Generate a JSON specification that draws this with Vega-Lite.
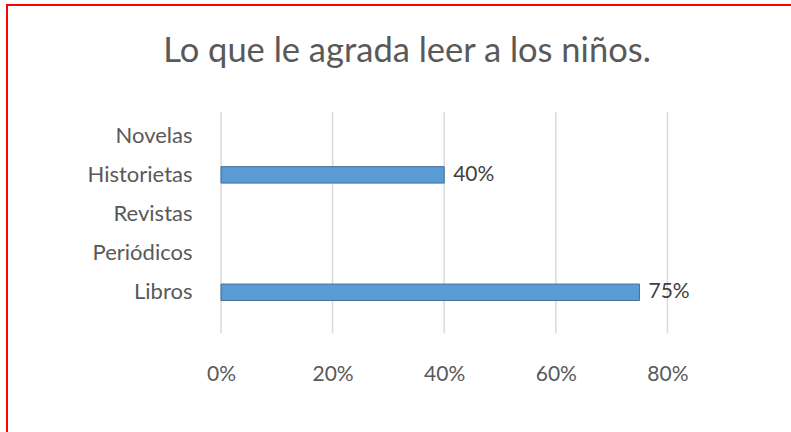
{
  "$schema": "https://vega.github.io/schema/vega-lite/v6.json",
  "autosize": "none",
  "padding": {"left": 7, "top": 5, "right": 0, "bottom": 0},
  "width": 800,
  "height": 440,
  "background": "white",
  "config": {
    "view": {"stroke": "#FF0000", "strokeWidth": 2},
    "font": "Lato"
  },
  "title": {
    "text": "Lo que le agrada leer a los niños.",
    "font": "Lato",
    "fontSize": 34.5,
    "fontWeight": "normal",
    "color": "#595959",
    "anchor": "middle",
    "offset": -64
  },
  "datasets": {
    "lectura": [
      {"tipo": "Novelas", "valor": 0},
      {"tipo": "Historietas", "valor": 0.40},
      {"tipo": "Revistas", "valor": 0},
      {"tipo": "Periódicos", "valor": 0},
      {"tipo": "Libros", "valor": 0.75}
    ],
    "marcas": [
      {"v": 0}, {"v": 0.2}, {"v": 0.4}, {"v": 0.6}, {"v": 0.8}
    ]
  },
  "layer": [
    {
      "data": {"name": "marcas"},
      "mark": {"type": "rule", "color": "#D9D9D9", "strokeWidth": 1.5, "yOffset": -24, "y2Offset": 41},
      "encoding": {
        "x": {"field": "v", "type": "quantitative"},
        "y": {"datum": "Novelas", "type": "nominal"},
        "y2": {"datum": "Libros"}
      }
    },
    {
      "data": {"name": "lectura"},
      "transform": [{"filter": "datum.valor > 0"}],
      "mark": {"type": "bar", "color": "#5B9BD5", "stroke": "#41719C", "strokeWidth": 1},
      "encoding": {
        "x": {"field": "valor", "type": "quantitative"},
        "y": {"field": "tipo", "type": "nominal"}
      }
    },
    {
      "data": {"name": "lectura"},
      "transform": [{"filter": "datum.valor > 0"}],
      "mark": {"type": "text", "align": "left", "baseline": "middle", "dx": 9, "fontSize": 21, "font": "Lato", "color": "#404040"},
      "encoding": {
        "x": {"field": "valor", "type": "quantitative"},
        "y": {"field": "tipo", "type": "nominal"},
        "text": {"field": "valor", "type": "quantitative", "format": ".0%"}
      }
    }
  ],
  "encoding": {
    "x": {
      "type": "quantitative",
      "scale": {"domain": [-0.3835, 1.0502], "nice": false, "zero": false},
      "axis": {
        "title": null,
        "values": [0, 0.2, 0.4, 0.6, 0.8],
        "format": ".0%",
        "grid": false,
        "domain": false,
        "ticks": false,
        "tickSize": 0,
        "labelPadding": 0,
        "labelBaseline": "middle",
        "labelFont": "Lato",
        "labelFontSize": 21,
        "labelColor": "#595959",
        "offset": -71
      }
    },
    "y": {
      "type": "nominal",
      "sort": ["Novelas", "Historietas", "Revistas", "Periódicos", "Libros"],
      "scale": {
        "domain": ["Novelas", "Historietas", "Revistas", "Periódicos", "Libros"],
        "range": [122.5, 295.5],
        "paddingInner": 0.58,
        "paddingOuter": 0
      },
      "axis": {
        "title": null,
        "grid": false,
        "domain": false,
        "ticks": false,
        "tickSize": 0,
        "labelPadding": 0,
        "labelFont": "Lato",
        "labelFontSize": 22,
        "labelColor": "#595959",
        "labelAlign": "right",
        "offset": -185
      }
    }
  }
}
